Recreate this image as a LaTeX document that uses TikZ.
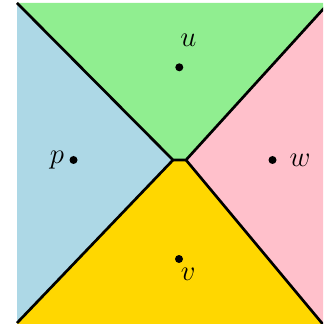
\documentclass[tikz,border=0pt]{standalone}
\definecolor{cblue}{HTML}{ADD8E6}
\definecolor{cgreen}{HTML}{90EE90}
\definecolor{cpink}{HTML}{FFC0CB}
\definecolor{cgold}{HTML}{FFD700}
\begin{document}
\begin{tikzpicture}[x=0.5pt,y=-0.5pt,
  edge/.style={line width=1.35pt, line join=miter},
  site/.style={circle, fill=black, inner sep=0pt, minimum size=4pt},
  lbl/.style={inner sep=0pt, font=\fontsize{14}{17}\selectfont}]
\useasboundingbox (0,0) rectangle (323,324);
\clip (0,0) rectangle (323,324);
\coordinate (TL) at (17,3);
\coordinate (BL) at (17,323);
\coordinate (A) at (173,160);
\coordinate (B) at (186,160);
\coordinate (TR) at (328.7,3);
\coordinate (BR) at (333,336.4);
% regions
\fill[cblue] (TL) -- (A) -- (BL) -- cycle;
\fill[cgreen] (TL) -- (A) -- (B) -- (TR) -- cycle;
\fill[cpink] (TR) -- (B) -- (BR) -- (340,336.4) -- (340,3) -- cycle;
\fill[cgold] (A) -- (B) -- (BR) -- (17,336.4) -- (BL) -- cycle;
% boundaries
\draw[edge] (TL) -- (A) -- (B) -- (TR);
\draw[edge] (A) -- (BL);
\draw[edge] (B) -- (BR);
% sites
\node[site] (u) at (179.3,67.3) {};
\node[site] (v) at (179,259) {};
\node[site] (p) at (73.5,160) {};
\node[site] (w) at (272.5,160) {};
\node[lbl] (lu) at (188.3,40.5) {$u$};
\node[lbl] (lv) at (188.3,274.5) {$v$};
\node[lbl] (lp) at (57,160.5) {$p$};
\node[lbl] (lw) at (300,160.5) {$w$};
\end{tikzpicture}
\end{document}
